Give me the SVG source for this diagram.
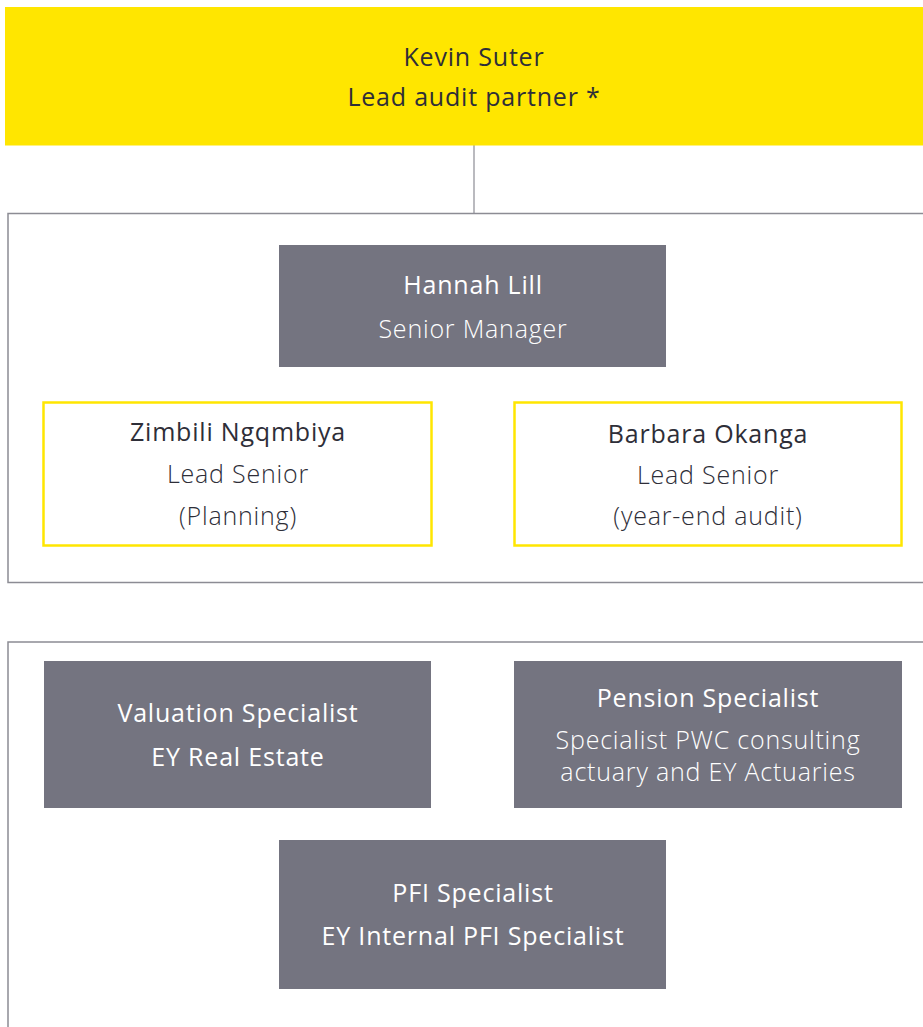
<svg xmlns="http://www.w3.org/2000/svg" width="923" height="1027" viewBox="0 0 923 1027">
<style>
text{font-family:"Open Sans","Liberation Sans",sans-serif;font-size:25px;text-anchor:middle;letter-spacing:0.8px}
.dk{fill:#2e2e38}
.wt{fill:#ffffff}
.b{font-weight:500}
.l{font-weight:350}
.grey{fill:#747480}
.frame{fill:none;stroke:#8c8c94;stroke-width:1.5}
.yb{fill:#ffffff;stroke:#ffe600;stroke-width:2.5}
</style>
<rect width="923" height="1027" fill="#ffffff"/>
<g id="connectors">
<line x1="474" y1="145" x2="474" y2="213" stroke="#8c8c94" stroke-width="1.2"/>
</g>
<g id="kevin">
<rect x="5" y="7" width="920" height="138.5" fill="#ffe600"/>
<text x="474" y="66" class="dk b">Kevin Suter</text>
<text x="474" y="106" class="dk b">Lead audit partner *</text>
</g>
<g id="team-frame">
<rect x="8" y="213.5" width="920" height="369" class="frame"/>
</g>
<g id="hannah">
<rect x="279" y="245" width="387" height="122" class="grey"/>
<text x="473" y="294" class="wt b">Hannah Lill</text>
<text x="473" y="338" class="wt l">Senior Manager</text>
</g>
<g id="zimbili">
<rect x="43.5" y="402.5" width="388" height="143" class="yb"/>
<text x="238" y="441" class="dk b">Zimbili Ngqmbiya</text>
<text x="238" y="483" class="dk l">Lead Senior</text>
<text x="238" y="525" class="dk l">(Planning)</text>
</g>
<g id="barbara">
<rect x="514.5" y="402.5" width="387" height="143" class="yb"/>
<text x="708" y="443" class="dk b">Barbara Okanga</text>
<text x="708" y="484" class="dk l">Lead Senior</text>
<text x="708" y="525" class="dk l">(year-end audit)</text>
</g>
<g id="specialist-frame">
<rect x="8" y="642" width="920" height="400" class="frame"/>
</g>
<g id="valuation">
<rect x="44" y="661" width="387" height="147" class="grey"/>
<text x="238" y="722" class="wt b">Valuation Specialist</text>
<text x="238" y="766" class="wt b">EY Real Estate</text>
</g>
<g id="pension">
<rect x="514" y="661" width="388" height="147" class="grey"/>
<text x="708" y="707" class="wt b">Pension Specialist</text>
<text x="708" y="749" class="wt l">Specialist PWC consulting</text>
<text x="708" y="781" class="wt l">actuary and EY Actuaries</text>
</g>
<g id="pfi">
<rect x="279" y="840" width="387" height="149" class="grey"/>
<text x="473" y="902" class="wt b">PFI Specialist</text>
<text x="473" y="945" class="wt b">EY Internal PFI Specialist</text>
</g>
</svg>
